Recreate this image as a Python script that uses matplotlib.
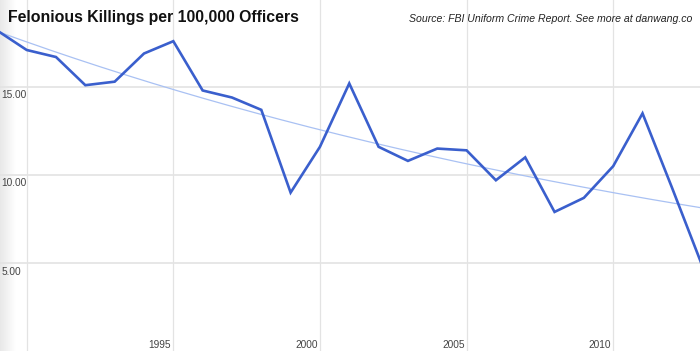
import numpy as np
import matplotlib
matplotlib.use("Agg")
import matplotlib.pyplot as plt
from matplotlib.transforms import blended_transform_factory

years = [1989, 1990, 1991, 1992, 1993, 1994, 1995, 1996, 1997, 1998, 1999, 2000,
         2001, 2002, 2003, 2004, 2005, 2006, 2007, 2008, 2009, 2010, 2011, 2012, 2013]
rates = [18.2, 17.1, 16.7, 15.1, 15.3, 16.9, 17.6, 14.8, 14.4, 13.7, 9.0, 11.6,
         15.2, 11.6, 10.8, 11.5, 11.4, 9.7, 11.0, 7.9, 8.7, 10.5, 13.5, 9.3, 5.0]
x_ticks = [1990, 1995, 2000, 2005, 2010]
x_labels = ["", "1995", "2000", "2005", "2010"]
y_ticks = [5, 10, 15]
y_labels = ["5.00", "10.00", "15.00"]
title = "Felonious Killings per 100,000 Officers"
source = "Source: FBI Uniform Crime Report. See more at danwang.co"

fig = plt.figure(figsize=(7.0, 3.51), dpi=100)
ax = fig.add_axes([0, 0, 1, 1])
for s in ax.spines.values():
    s.set_visible(False)
ax.set_xticks([])
ax.set_yticks([])

# left shadow gradient
grad = np.linspace(0.91, 1.0, 64).reshape(1, -1)
grad = np.repeat(grad[..., None], 3, axis=2)
ax.imshow(grad, extent=[0, 16 / 700, 0, 1], transform=ax.transAxes,
          aspect="auto", zorder=0, interpolation="bilinear")
ax.set_xlim(1989.09, 2012.96)
ax.set_ylim(0, 19.94)

grid_c = "#e3e3e3"
for xt in x_ticks:
    ax.axvline(xt, color=grid_c, lw=0.9, zorder=1)
for yt in y_ticks:
    ax.axhline(yt, color=grid_c, lw=1.2, zorder=1)

# exponential trendline fitted to the data
yr = np.array(years, dtype=float)
rv = np.array(rates, dtype=float)
b, a = np.polyfit(yr - yr[0], np.log(rv), 1)
xt_line = np.linspace(1988.5, 2013.5, 200)
ax.plot(xt_line, np.exp(a + b * (xt_line - yr[0])), color="#a9c1f3", lw=0.9, zorder=2)

ax.plot(years, rates, color="#3a5fcd", lw=1.9, zorder=3, solid_joinstyle="miter")

tb = blended_transform_factory(ax.transData, ax.transAxes)
for xt, lab in zip(x_ticks, x_labels):
    ax.text(xt - 0.07, 0.003, lab, transform=tb, ha="right", va="bottom",
            fontsize=7.3, color="#444444", family="Liberation Sans")
tl = blended_transform_factory(ax.transAxes, ax.transData)
for yt, lab in zip(y_ticks, y_labels):
    ax.text(1.5 / 700, yt - 0.2, lab, transform=tl, ha="left", va="top",
            fontsize=7.3, color="#444444", family="Liberation Sans")

fig.text(8 / 700, 1 - 22 / 351, title, ha="left", va="baseline",
         fontsize=11.4, fontweight="bold", color="#111111", family="Liberation Sans")
fig.text(692 / 700, 1 - 22.5 / 351, source, ha="right", va="baseline",
         fontsize=7.6, style="italic", color="#222222", family="Liberation Sans")

fig.savefig("out.png", dpi=100)
